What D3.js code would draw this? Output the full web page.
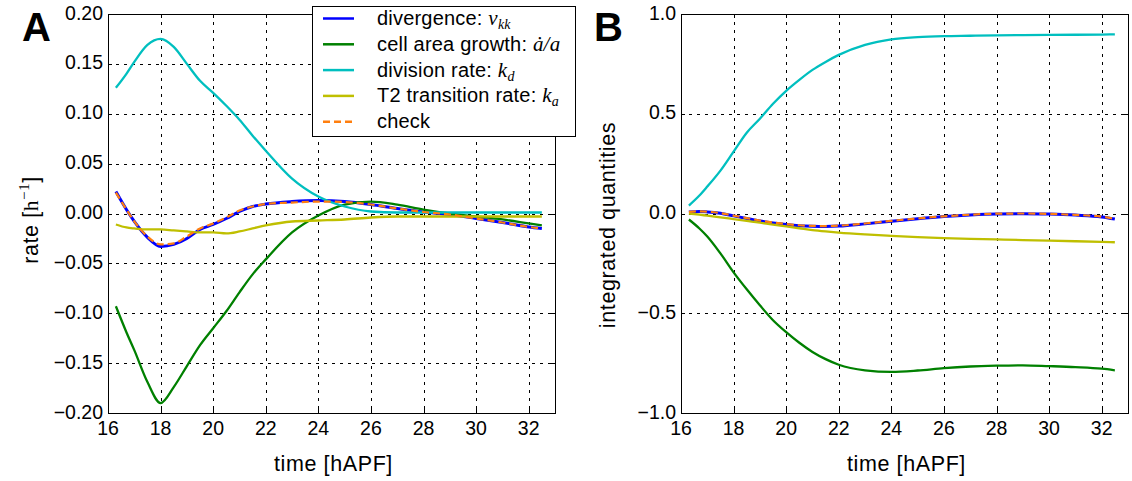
<!DOCTYPE html>
<html>
<head>
<meta charset="utf-8">
<script src="https://cdn.jsdelivr.net/npm/d3@7"></script>
<style>
  body { margin: 0; background: #fff; }
  svg { display: block; }
  text { font-family: "Liberation Sans", Arial, sans-serif; fill: #000; }
  .math { font-family: "Liberation Serif", "DejaVu Serif", serif; font-style: italic; }
</style>
</head>
<body>
<div id="chart"></div>
<script>
// time points (hAPF) shared by every series
const time = [16.3, 16.7, 17, 17.5, 18, 18.5, 19, 19.5, 20, 20.5, 21, 21.5, 22, 23, 24, 25, 26, 27, 28, 29, 30, 31, 32, 32.5];

// panel A: rates [1/h]
const divergenceRate = [0.022, 0.004, -0.008, -0.024, -0.033, -0.031, -0.025, -0.016, -0.011, -0.005, 0.002, 0.007, 0.0095, 0.012, 0.013, 0.012, 0.009, 0.005, 0.0015, -0.001, -0.005, -0.009, -0.0135, -0.015];
const areaGrowthRate = [-0.093, -0.119, -0.137, -0.169, -0.19, -0.174, -0.153, -0.132, -0.115, -0.098, -0.079, -0.061, -0.046, -0.019, -0.002, 0.009, 0.012, 0.009, 0.004, 0.0, -0.003, -0.006, -0.010, -0.012];
const divisionRate = [0.126, 0.140, 0.152, 0.169, 0.175, 0.167, 0.150, 0.133, 0.121, 0.108, 0.094, 0.078, 0.063, 0.035, 0.017, 0.007, 0.002, 0.001, 0.001, 0.001, 0.001, 0.001, 0.001, 0.001];
const t2Rate = [-0.011, -0.014, -0.015, -0.016, -0.016, -0.017, -0.018, -0.019, -0.019, -0.020, -0.018, -0.015, -0.012, -0.008, -0.007, -0.006, -0.004, -0.003, -0.003, -0.003, -0.003, -0.003, -0.003, -0.003];
const checkRate = [0.021, 0.004, -0.008, -0.023, -0.031, -0.030, -0.023, -0.015, -0.010, -0.004, 0.003, 0.007, 0.0095, 0.011, 0.012, 0.0115, 0.009, 0.005, 0.0015, -0.001, -0.005, -0.009, -0.0135, -0.015];

// panel B: integrated quantities
const divergenceInt = [0.007, 0.01, 0.008, 0.001, -0.012, -0.025, -0.037, -0.047, -0.055, -0.061, -0.064, -0.065, -0.063, -0.052, -0.039, -0.026, -0.015, -0.007, -0.002, -0.001, -0.003, -0.008, -0.017, -0.028];
const areaGrowthInt = [-0.03, -0.075, -0.115, -0.20, -0.295, -0.38, -0.46, -0.535, -0.595, -0.648, -0.694, -0.73, -0.758, -0.786, -0.794, -0.787, -0.775, -0.767, -0.763, -0.761, -0.765, -0.770, -0.778, -0.786];
const divisionInt = [0.04, 0.09, 0.135, 0.215, 0.31, 0.405, 0.475, 0.55, 0.615, 0.67, 0.72, 0.76, 0.795, 0.845, 0.873, 0.884, 0.889, 0.891, 0.893, 0.894, 0.895, 0.896, 0.897, 0.898];
const t2Int = [0.0, -0.006, -0.011, -0.019, -0.028, -0.037, -0.046, -0.056, -0.065, -0.074, -0.083, -0.09, -0.096, -0.105, -0.112, -0.118, -0.123, -0.127, -0.130, -0.133, -0.136, -0.139, -0.142, -0.144];
const checkInt = [0.008, 0.011, 0.009, 0.002, -0.011, -0.023, -0.035, -0.045, -0.053, -0.059, -0.062, -0.063, -0.061, -0.050, -0.037, -0.025, -0.014, -0.006, -0.001, 0.0, -0.002, -0.007, -0.016, -0.027];

// tick labels
const xTicks = [16, 18, 20, 22, 24, 26, 28, 30, 32];
const yTicksA = [-0.20, -0.15, -0.10, -0.05, 0.00, 0.05, 0.10, 0.15, 0.20];
const yTicksB = [-1.0, -0.5, 0.0, 0.5, 1.0];

const W = 1132, H = 481;
const svg = d3.select('#chart').append('svg').attr('width', W).attr('height', H);

const seriesStyle = [
    { color: '#0000ff', width: 3, dash: null },
    { color: '#008000', width: 2.3, dash: null },
    { color: '#00bfbf', width: 2.3, dash: null },
    { color: '#bfbf00', width: 2.3, dash: null },
    { color: '#ff7f0e', width: 2.2, dash: '7,4' }
];

function fmtMinus(s) { return s.replace('-', '\u2212'); }

function panel(opts) {
    const { left, right, top, bottom, yDomain, yTicks, yFmt, series, ylabel, ylabelX, ylabelY, letter, letterX } = opts;
    const x = d3.scaleLinear().domain([16, 33]).range([left, right]);
    const y = d3.scaleLinear().domain(yDomain).range([bottom, top]);
    const g = svg.append('g');

    // grid
    const grid = g.append('g').attr('stroke', '#000').attr('stroke-width', 1).attr('stroke-dasharray', '3,5');
    grid.selectAll('.gx').data(xTicks).join('line')
        .attr('x1', d => Math.round(x(d)) + 0.5).attr('x2', d => Math.round(x(d)) + 0.5)
        .attr('y1', top).attr('y2', bottom);
    grid.selectAll('.gy').data(yTicks).join('line')
        .attr('y1', d => Math.round(y(d)) + 0.5).attr('y2', d => Math.round(y(d)) + 0.5)
        .attr('x1', left).attr('x2', right);

    // data lines
    const line = d3.line().curve(d3.curveMonotoneX);
    series.forEach((vals, i) => {
        const st = seriesStyle[i];
        g.append('path')
            .attr('d', line(time.map((t, k) => [x(t), y(vals[k])])))
            .attr('fill', 'none')
            .attr('stroke', st.color)
            .attr('stroke-width', st.width)
            .attr('stroke-dasharray', st.dash);
    });

    // frame
    g.append('rect').attr('x', left + 0.5).attr('y', top + 0.5)
        .attr('width', right - left).attr('height', bottom - top)
        .attr('fill', 'none').attr('stroke', '#000').attr('stroke-width', 1);

    // inward ticks on all sides
    const ticks = g.append('g').attr('stroke', '#000').attr('stroke-width', 1);
    xTicks.forEach(d => {
        const px = Math.round(x(d)) + 0.5;
        ticks.append('line').attr('x1', px).attr('x2', px).attr('y1', bottom).attr('y2', bottom - 4);
        ticks.append('line').attr('x1', px).attr('x2', px).attr('y1', top).attr('y2', top + 4);
    });
    yTicks.forEach(d => {
        const py = Math.round(y(d)) + 0.5;
        ticks.append('line').attr('y1', py).attr('y2', py).attr('x1', left).attr('x2', left + 4);
        ticks.append('line').attr('y1', py).attr('y2', py).attr('x1', right).attr('x2', right - 4);
    });

    // tick labels
    g.selectAll('.xl').data(xTicks).join('text')
        .attr('x', d => x(d)).attr('y', bottom + 21.5)
        .attr('text-anchor', 'middle').attr('font-size', 19.5)
        .text(d => d);
    g.selectAll('.yl').data(yTicks).join('text')
        .attr('x', left - 5).attr('y', d => y(d) + 5.5)
        .attr('text-anchor', 'end').attr('font-size', 19.5)
        .text(d => fmtMinus(yFmt(d)));

    // axis labels
    g.append('text').attr('x', (left + right) / 2 + 2).attr('y', 471)
        .attr('text-anchor', 'middle').attr('font-size', 21.5).attr('letter-spacing', 0.6)
        .text('time [hAPF]');
    const yl = g.append('text')
        .attr('transform', `translate(${ylabelX},${ylabelY}) rotate(-90)`)
        .attr('text-anchor', 'middle').attr('font-size', 21.5).attr('letter-spacing', 0.6);
    ylabel(yl);

    // panel letter
    svg.append('text').attr('x', letterX).attr('y', 41)
        .attr('font-size', 40).attr('font-weight', 'bold').text(letter);
}

panel({
    left: 108, right: 555, top: 14, bottom: 413,
    yDomain: [-0.2, 0.2], yTicks: yTicksA, yFmt: d3.format('.2f'),
    series: [divergenceRate, areaGrowthRate, divisionRate, t2Rate, checkRate],
    ylabel: t => {
        t.append('tspan').text('rate [');
        t.append('tspan').attr('font-family', '"Liberation Serif", serif').text('h');
        t.append('tspan').attr('font-family', '"Liberation Serif", serif').attr('font-size', 15).attr('dy', -9).text('\u22121');
        t.append('tspan').attr('dy', 9).text(']');
    },
    ylabelX: 38, ylabelY: 220, letter: 'A', letterX: 22
});

panel({
    left: 681, right: 1128, top: 14, bottom: 413,
    yDomain: [-1, 1], yTicks: yTicksB, yFmt: d3.format('.1f'),
    series: [divergenceInt, areaGrowthInt, divisionInt, t2Int, checkInt],
    ylabel: t => t.text('integrated quantities'),
    ylabelX: 615, ylabelY: 225, letter: 'B', letterX: 594
});

// legend (panel A)
const legendNames = ['divergence: ', 'cell area growth: ', 'division rate: ', 'T2 transition rate: ', 'check'];
const legendMath = [['v', 'kk'], ['\u0227/a', ''], ['k', 'd'], ['k', 'a'], null];
const lg = svg.append('g');
lg.append('rect').attr('x', 312.5).attr('y', 6.5).attr('width', 263).attr('height', 130)
    .attr('fill', '#fff').attr('stroke', '#000').attr('stroke-width', 1);
legendNames.forEach((name, i) => {
    const cy = 18.5 + i * 25.8;
    const st = seriesStyle[i];
    lg.append('line').attr('x1', 323).attr('x2', 354).attr('y1', cy).attr('y2', cy)
        .attr('stroke', st.color).attr('stroke-width', 2.5).attr('stroke-dasharray', st.dash);
    const t = lg.append('text').attr('x', 377).attr('y', cy + 6.5).attr('font-size', 20).attr('letter-spacing', 0.2);
    t.append('tspan').text(name);
    const m = legendMath[i];
    if (m) {
        t.append('tspan').attr('class', 'math').attr('font-size', 21).text(m[0]);
        if (m[1]) {
            t.append('tspan').attr('class', 'math').attr('font-size', 14).attr('dy', 4).text(m[1]);
        }
    }
});
</script>
</body>
</html>
